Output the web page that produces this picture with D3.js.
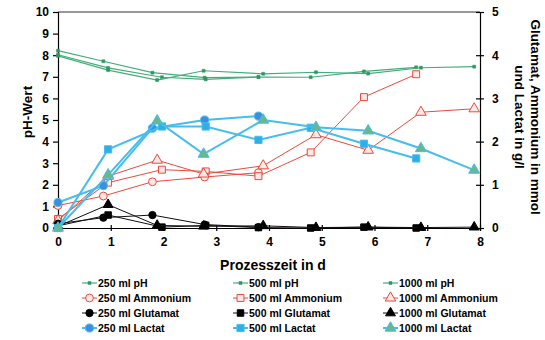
<!DOCTYPE html>
<html>
<head>
<meta charset="utf-8">
<script src="https://cdn.jsdelivr.net/npm/d3@7"></script>
<style>
body{margin:0;background:#fff;}
svg{font-family:"Liberation Sans",Arial,sans-serif;font-weight:bold;}
.axis path,.axis line{stroke:#000;stroke-width:1.2;}
.axis text{font-size:12px;font-family:"Liberation Sans",Arial,sans-serif;font-weight:bold;fill:#000;}
</style>
</head>
<body>
<svg id="chart" width="545" height="340"></svg>
<script>
const days250=[0,0.86,1.79,2.78,3.8];
const days500=[0,0.95,1.97,2.8,3.8,4.79,5.8,6.79];
const days1000=[0,0.95,1.88,2.76,3.89,4.89,5.88,6.88,7.89];

const pH250=[8.21,7.72,7.19,6.96,6.99];
const pH500=[8.02,7.41,6.98,6.88,6.99,6.98,7.25,7.44];
const pH1000=[7.97,7.31,6.85,7.28,7.14,7.21,7.15,7.42,7.47];

const amm250=[0.52,0.74,1.07,1.18,1.28];
const amm500=[0.21,1.05,1.35,1.31,1.2,1.75,3.03,3.56];
const amm1000=[0.17,1.2,1.57,1.25,1.44,2.16,1.8,2.68,2.76];

const glu250=[0.1,0.24,0.3,0.08,0.02];
const glu500=[0.05,0.3,0.02,0.06,0.01,0,0.02,0];
const glu1000=[0.04,0.54,0.06,0.04,0.05,0.01,0.02,0.01,0.02];

const lac250=[0.59,0.98,2.31,2.5,2.59];
const lac500=[0,1.82,2.35,2.35,2.04,2.32,1.95,1.61];
const lac1000=[0,1.23,2.48,1.71,2.5,2.33,2.25,1.84,1.34];

const xTicks=[0,1,2,3,4,5,6,7,8];
const xTitle="Prozesszeit in d";
const yLeftTitle="pH-Wert";
const yRightTitle=["Glutamat, Ammonium in mmol","und Lactat in g/l"];

const volumes=["250 ml","500 ml","1000 ml"];
const daysByVol=[days250,days500,days1000];
const shapes=[d3.symbolCircle,d3.symbolSquare,d3.symbolTriangle];

const styles={
  pH:{line:"#45ad7c",width:1.2,stroke:"#2a9a60",fill:"#2a9a60",size:9,axis:"left"},
  Ammonium:{line:"#ea4a3c",width:1,stroke:"#ea4a3c",fill:"#fde8e6",size:48,axis:"right"},
  Glutamat:{line:"#111",width:1,stroke:"#000",fill:"#000",size:42,axis:"right"},
  Lactat:{line:"#45bdee",width:2,stroke:"#45bdee",fill:["#3d8fdb","#30aee8","#69b78a"],size:52,axis:"right"}
};
const valuesByType={
  pH:[pH250,pH500,pH1000],
  Ammonium:[amm250,amm500,amm1000],
  Glutamat:[glu250,glu500,glu1000],
  Lactat:[lac250,lac500,lac1000]
};

let series=[];
Object.keys(valuesByType).forEach((t)=>{
  valuesByType[t].forEach((vals,i)=>{
    series.push({
      type:t,vol:i,
      name:`${volumes[i]} ${t}`,
      points:vals.map((v,j)=>({d:daysByVol[i][j],v:v}))
    });
  });
});

const svg=d3.select("#chart");
const x=d3.scaleLinear().domain([0,8]).range([58,480]);
const yL=d3.scaleLinear().domain([0,10]).range([228,12]);
const yR=d3.scaleLinear().domain([0,5]).range([228,12]);

svg.append("line")
  .attr("x1",x(0)).attr("x2",x(8))
  .attr("y1",yL(10)).attr("y2",yL(10))
  .attr("stroke","#333").attr("stroke-width",1.2);

let gl=svg.append("g").attr("class","axis")
  .attr("transform",`translate(${x(0)},0)`)
  .call(d3.axisLeft(yL).ticks(10).tickSizeOuter(0).tickSize(5).tickPadding(4));

let gr=svg.append("g").attr("class","axis")
  .attr("transform",`translate(${x(8)},0)`)
  .call(d3.axisRight(yR).ticks(5).tickSizeOuter(0).tickSize(4).tickPadding(8));
gr.selectAll(".tick line").attr("x1",-4);

let gb=svg.append("g").attr("class","axis")
  .attr("transform",`translate(0,${yL(0)})`)
  .call(d3.axisBottom(x).tickValues(xTicks).tickSizeOuter(0).tickSize(3).tickPadding(6).tickFormat(d3.format("d")));
gb.selectAll(".tick line").attr("y1",-3);

const marker=(s)=>{
  let st=styles[s.type];
  return d3.symbol().type(s.type=="pH"?d3.symbolSquare:shapes[s.vol]).size(s.type=="pH"?st.size:st.size);
};
const fillOf=(s)=>{
  let f=styles[s.type].fill;
  return Array.isArray(f)?f[s.vol]:f;
};

series.forEach((s)=>{
  let st=styles[s.type];
  let y=st.axis=="left"?yL:yR;
  let line=d3.line().x((p)=>x(p.d)).y((p)=>y(p.v));
  let g=svg.append("g").attr("class","series");
  g.append("path")
    .datum(s.points)
    .attr("d",line)
    .attr("fill","none")
    .attr("stroke",st.line)
    .attr("stroke-width",st.width);
  g.selectAll("path.mk")
    .data(s.points)
    .enter()
      .append("path")
      .attr("class","mk")
      .attr("transform",(p)=>`translate(${x(p.d)},${y(p.v)})`)
      .attr("d",marker(s)())
      .attr("fill",fillOf(s))
      .attr("stroke",st.stroke)
      .attr("stroke-width",s.type=="pH"?0.5:1);
});

svg.append("text")
  .attr("transform",`translate(27,112) rotate(-90)`)
  .attr("text-anchor","middle")
  .attr("dominant-baseline","central")
  .style("font-size","13.5px")
  .text(yLeftTitle);

svg.append("g")
  .attr("transform","translate(527,117) rotate(90)")
  .selectAll("text")
  .data(yRightTitle)
  .enter()
    .append("text")
    .attr("text-anchor","middle")
    .attr("y",(d,i)=>i*16-8)
    .attr("dominant-baseline","central")
    .style("font-size","13.5px")
    .text((d)=>d);

svg.append("text")
  .attr("x",(x(0)+x(8))/2+4)
  .attr("y",265)
  .attr("text-anchor","middle")
  .attr("dominant-baseline","central")
  .style("font-size","14px")
  .text(xTitle);

const legendCols=[82,233,383];
const legendRows=[283,298,313,328];
const typeOrder=["pH","Ammonium","Glutamat","Lactat"];
let legend=svg.append("g").attr("class","legend")
  .selectAll("g")
  .data(series)
  .enter()
    .append("g")
    .attr("transform",(s)=>`translate(${legendCols[s.vol]},${legendRows[typeOrder.indexOf(s.type)]})`);
legend.append("line")
  .attr("x1",0).attr("x2",15)
  .attr("stroke",(s)=>styles[s.type].line)
  .attr("stroke-width",(s)=>styles[s.type].width);
legend.append("path")
  .attr("transform","translate(7.5,0)")
  .attr("d",(s)=>marker(s)())
  .attr("fill",(s)=>fillOf(s))
  .attr("stroke",(s)=>styles[s.type].stroke)
  .attr("stroke-width",(s)=>s.type=="pH"?0.5:1);
legend.append("text")
  .attr("x",16)
  .attr("dominant-baseline","central")
  .style("font-size","10.5px")
  .text((s)=>s.name);
</script>
</body>
</html>
